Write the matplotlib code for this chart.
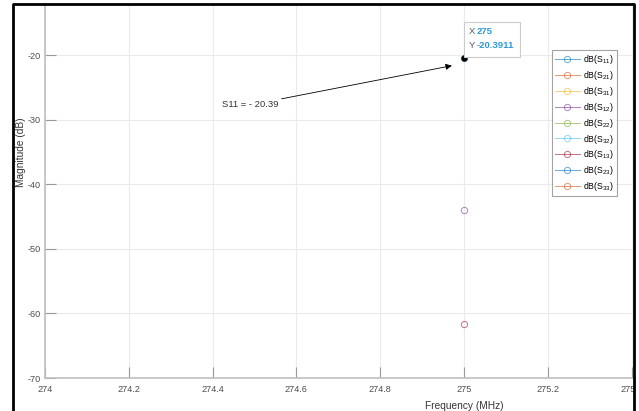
import numpy as np
import matplotlib.pyplot as plt
from matplotlib.patches import Rectangle
from matplotlib.lines import Line2D
from matplotlib.transforms import IdentityTransform
from matplotlib.ticker import MultipleLocator, FuncFormatter

plt.rcParams['font.family'] = ['Liberation Sans', 'DejaVu Sans']
plt.rcParams['mathtext.fontset'] = 'custom'
plt.rcParams['mathtext.rm'] = 'Liberation Sans'
plt.rcParams['mathtext.it'] = 'Liberation Sans:italic'
plt.rcParams['axes.unicode_minus'] = False

# data
freq = [275.0]
portPairs = ['11', '21', '31', '12', '22', '32', '13', '23', '33']
magnitude = [-20.3911, np.nan, np.nan, -43.95, np.nan, np.nan, -61.7, np.nan, np.nan]
tipX = 275.0
tipY = -20.3911
noteText = 'S11 = - 20.39'

matlabColors = ['#0072bd', '#d95319', '#edb120', '#7e2f8e', '#77ac30',
                '#4dbeee', '#a2142f', '#0072bd', '#d95319']

W, H = 639, 411
fig = plt.figure(figsize=(W / 100, H / 100), dpi=100)
# axes is wider/taller than the picture: the screenshot is cropped
ax = fig.add_axes([45 / W, (H - 378) / H, 838 / W, 452 / H])

for i in range(len(portPairs)):
    ax.plot(freq, [magnitude[i]], marker='o', mfc='none', color=matlabColors[i],
            alpha=0.6, lw=0.7, ms=4.5, mew=0.7,
            label='dB(S$_{' + portPairs[i] + '}$)')

ax.plot([tipX], [tipY], 'o', color='k', ms=3.5, zorder=5)

ax.set_xlim(274, 276)
ax.set_ylim(-70, 0)
ax.xaxis.set_major_locator(MultipleLocator(0.2))
ax.yaxis.set_major_locator(MultipleLocator(10))
ax.xaxis.set_major_formatter(FuncFormatter(lambda v, p: f'{v:g}'))
ax.tick_params(direction='in', length=8, width=0.8, color='0.6',
               labelcolor='0.3', labelsize=6.6, pad=3)
ax.tick_params(axis='x', pad=5)
ax.grid(True, color='0.92', lw=0.8)
ax.set_axisbelow(True)
for side in ['top', 'right']:
    ax.spines[side].set_visible(False)
for side in ['left', 'bottom']:
    ax.spines[side].set_color('0.75')
    ax.spines[side].set_linewidth(1.2)

ax.set_xlabel('Frequency (MHz)', fontsize=7.3, color='0.2', va='top')
ax.xaxis.set_label_coords(0.5, -0.05)
ax.set_ylabel('Magnitude (dB)', fontsize=7.3, color='0.2')
ax.yaxis.set_label_coords(-0.0225, 0.5)

# annotation arrow
ax.annotate(noteText, xy=(274.971, -21.63), xytext=(274.558, -27.7),
            ha='right', va='center', fontsize=6.8, color='0.2',
            arrowprops=dict(arrowstyle='-|>', color='k', lw=0.6,
                            shrinkA=0, shrinkB=0, mutation_scale=9))

leg = ax.legend(loc='upper left', bbox_to_anchor=(552 / W, 1 - 50 / H),
                bbox_transform=fig.transFigure, fontsize=6.3, frameon=True,
                fancybox=False, edgecolor='0.55', handlelength=2.8,
                labelspacing=0.33, borderpad=0.35, handletextpad=0.4,
                borderaxespad=0)
leg.get_frame().set_linewidth(0.8)

# data tip box, placed relative to the tip marker in pixels
fig.canvas.draw()
px, py = ax.transData.transform((tipX, tipY))
fig.add_artist(Rectangle((px - 0.5, py + 1), 56, 35, transform=IdentityTransform(),
                         facecolor='white', edgecolor='0.8', lw=0.8, zorder=6))
fig.text(px + 5, py + 26.5, 'X', transform=IdentityTransform(), fontsize=6.8,
         color='0.35', va='center', zorder=7)
fig.text(px + 5, py + 12.5, 'Y', transform=IdentityTransform(), fontsize=6.8,
         color='0.35', va='center', zorder=7)
fig.text(px + 13, py + 26.5, f'{tipX:g}', transform=IdentityTransform(), fontsize=6.8,
         color='#2a9ad8', va='center', weight='bold', zorder=7)
fig.text(px + 13, py + 12.5, f'{tipY:g}', transform=IdentityTransform(), fontsize=6.8,
         color='#2a9ad8', va='center', weight='bold', zorder=7)

# screenshot frame
fig.add_artist(Rectangle((636 / W, 0), 3 / W, 1, transform=fig.transFigure,
                         facecolor='white', edgecolor='none', zorder=8))
fig.add_artist(Rectangle((0, 1 - 3 / H), 1, 3 / H, transform=fig.transFigure,
                         facecolor='white', edgecolor='none', zorder=8))
fig.add_artist(Line2D([13 / W, 13 / W, 634 / W, 634 / W], [0, 1 - 4 / H, 1 - 4 / H, 0],
                      transform=fig.transFigure, color='k', lw=2, zorder=9))

fig.savefig('out.png', dpi=100)
